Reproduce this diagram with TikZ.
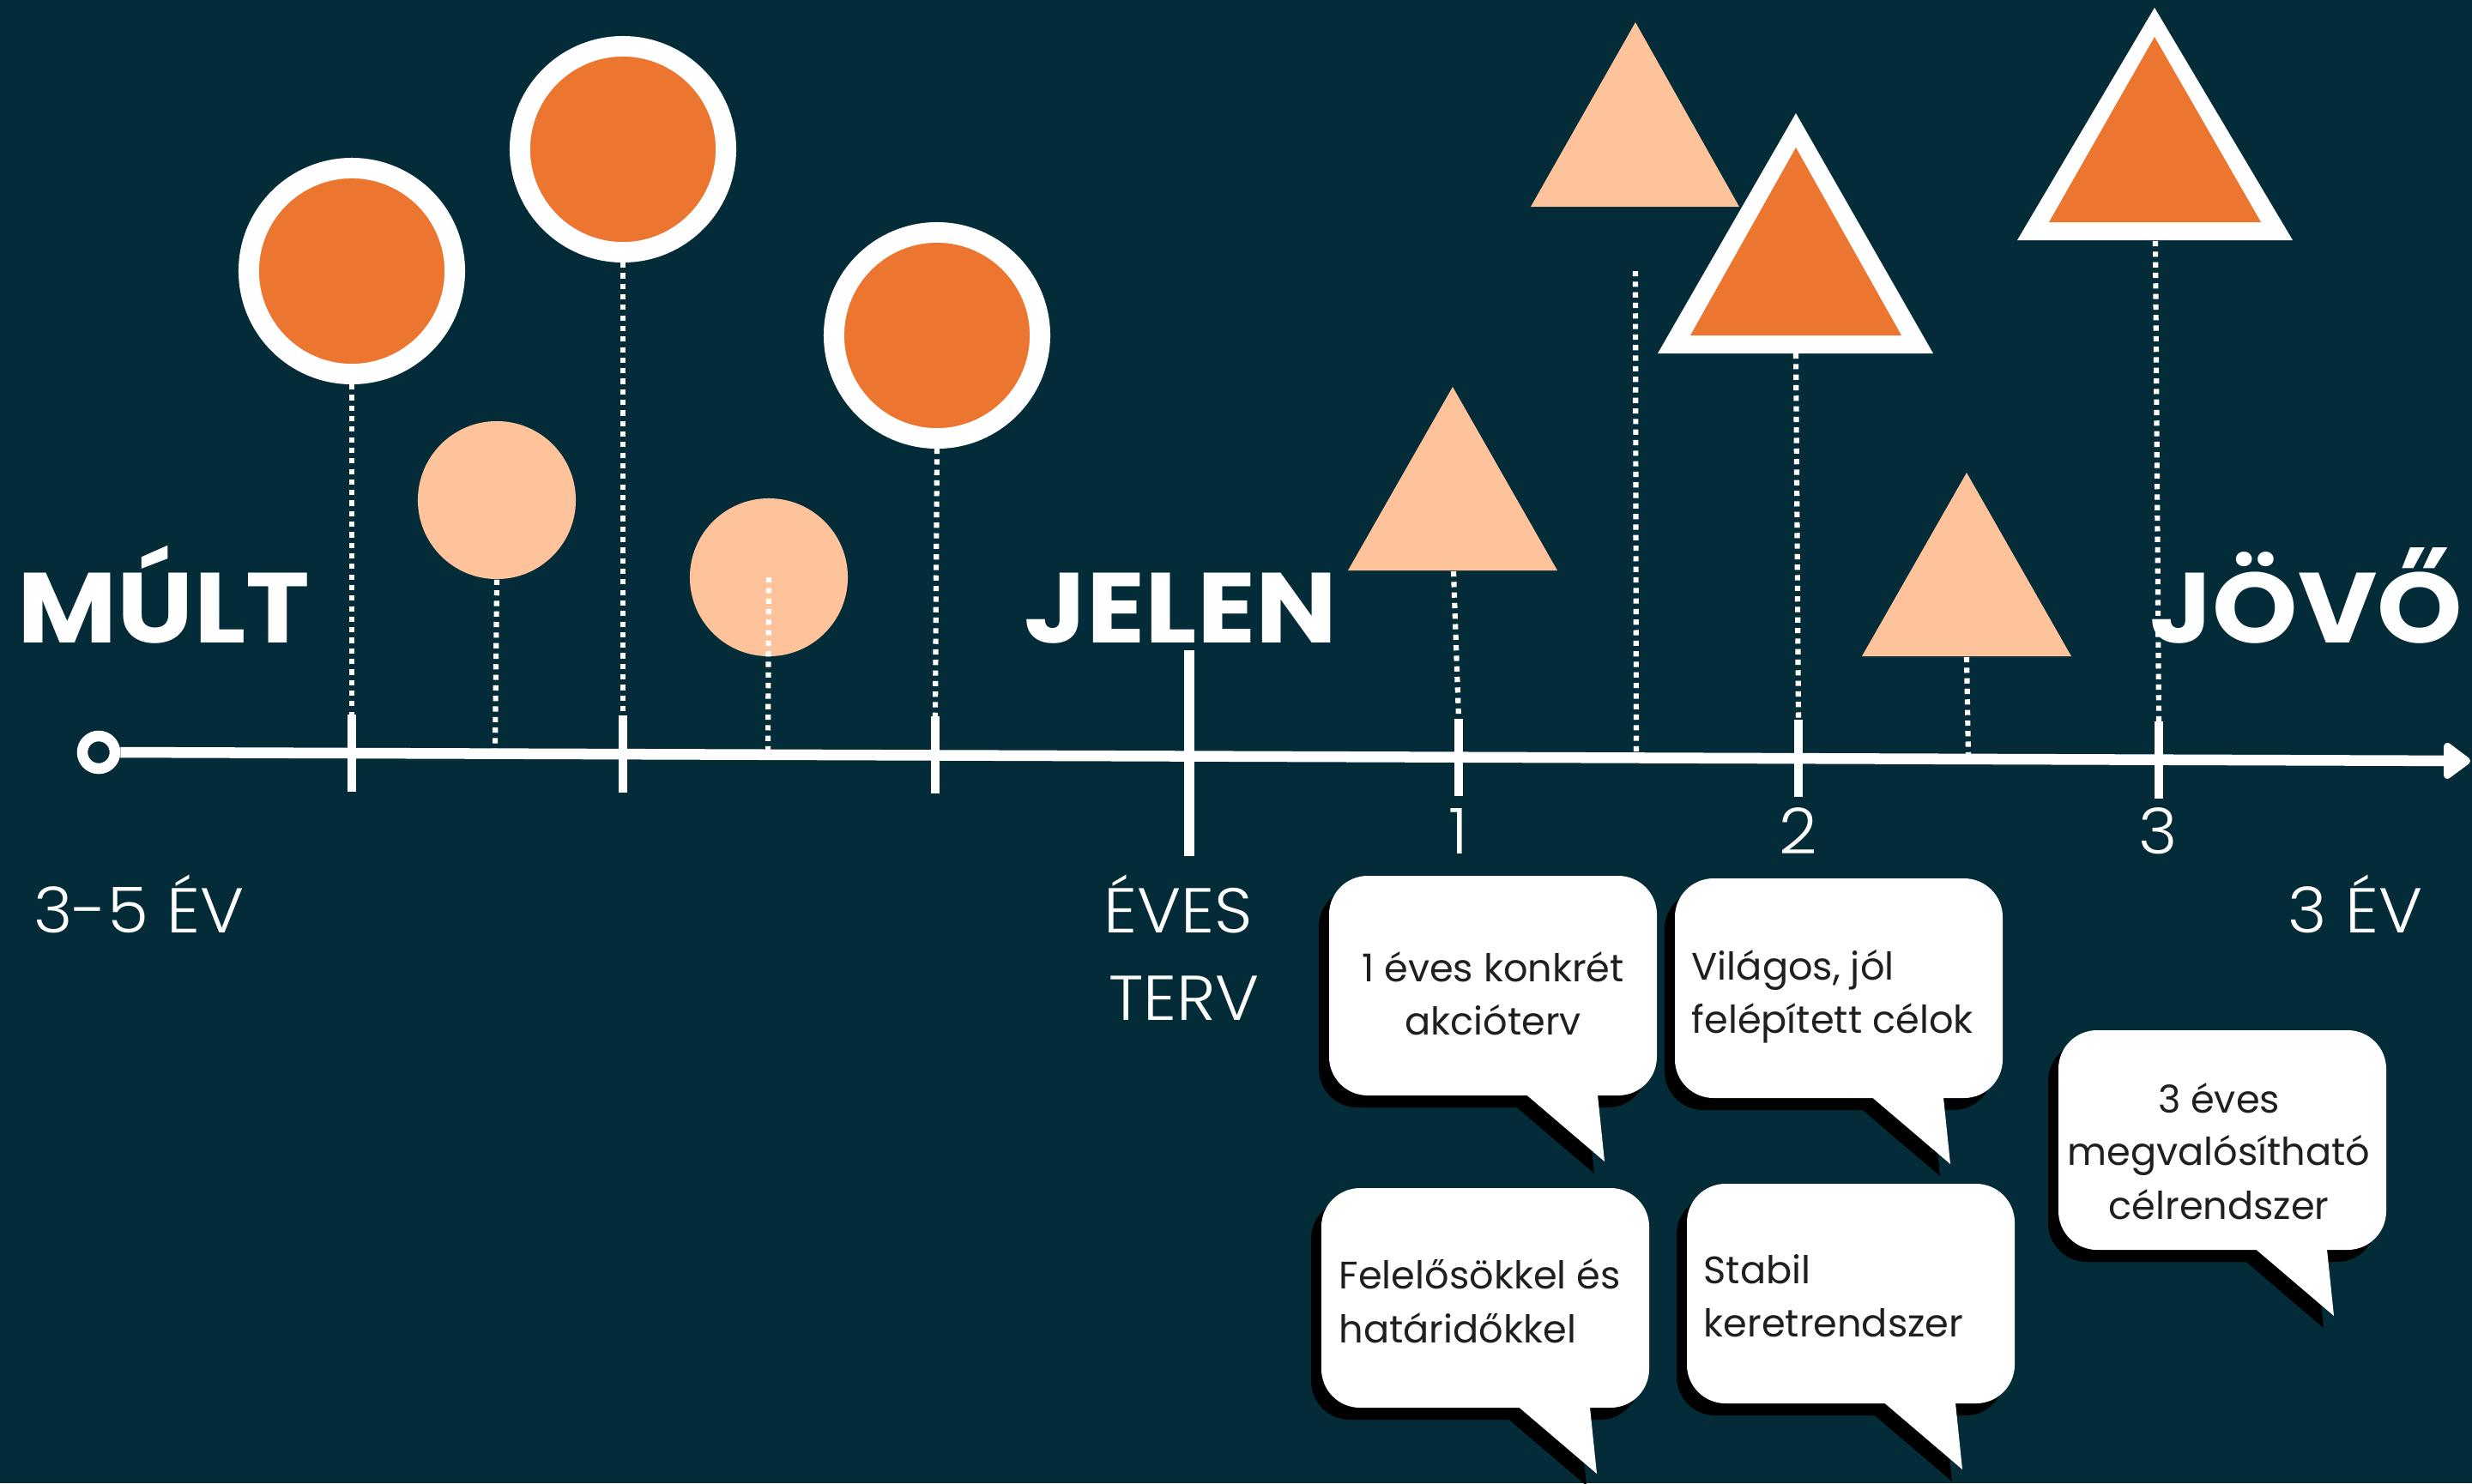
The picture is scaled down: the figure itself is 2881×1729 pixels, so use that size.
\documentclass[tikz,border=0pt]{standalone}
\usepackage{fontspec}
\setmainfont{Poppins}
\newfontfamily\headf{Poppins}[FakeStretch=1.09]
\IfFontExistsTF{Poppins Light}{\newfontfamily\lightf{Poppins Light}[FakeStretch=1.05]}{\newfontfamily\lightf{Poppins}[FakeStretch=1.05]}
\usetikzlibrary{arrows.meta}
\definecolor{bg}{RGB}{3,44,56}
\definecolor{orng}{RGB}{236,117,48}
\definecolor{peach}{RGB}{254,195,155}
\tikzset{bubble/.pic={
  \fill[black,rounded corners=0.45cm] (-12,14) rectangle (370,270);
  \fill[black] (207,260) -- (309,347) -- (300,260) -- cycle;
  \fill[white,rounded corners=0.45cm] (0,0) rectangle (382,256);
  \fill[white] (219,246) -- (321,333) -- (312,246) -- cycle;
}}
\begin{document}
\begin{tikzpicture}[x=0.01cm,y=-0.01cm,
  dots/.style={draw=white, line width=1.75pt, dash pattern=on 1.75pt off 1.75pt},
  tickmark/.style={draw=white, line width=3.1pt},
  bigdot/.style={circle, fill=orng, draw=white, line width=6.8pt, minimum size=2.4cm, inner sep=0pt},
  smalldot/.style={circle, fill=peach, minimum size=1.84cm, inner sep=0pt},
  biglabel/.style={text=white, font=\headf\fontsize{33}{33}\selectfont\bfseries, inner sep=0pt, anchor=base},
  smalllabel/.style={text=white, font=\lightf\fontsize{21}{21}\selectfont, inner sep=0pt, anchor=base},
  bubtext/.style={text=black!88, font=\fontsize{12.7}{12.7}\selectfont, inner sep=0pt},
]
\fill[bg] (0,0) rectangle (2881,1729);
\useasboundingbox (0,0) rectangle (2881,1729);

% ---- axis ----
\node[circle, draw=white, line width=3.56pt, minimum size=0.38cm, inner sep=0pt] (origin) at (115,877) {};
\coordinate (tip) at (2879,887);
\draw[white, line width=3.56pt, -{Triangle[length=0.34cm, width=0.48cm, round]}] (origin.east) -- (tip);

% tick coordinates (top / bottom)
\coordinate (k1a) at (410,833);  \coordinate (k1b) at (410,923);
\coordinate (k2a) at (726,834);  \coordinate (k2b) at (726,924);
\coordinate (k3a) at (1090,835); \coordinate (k3b) at (1090,925);
\coordinate (k4a) at (1386,758); \coordinate (k4b) at (1386,998);
\coordinate (k5a) at (1700,838); \coordinate (k5b) at (1700,928);
\coordinate (k6a) at (2096,839); \coordinate (k6b) at (2096,929);
\coordinate (k7a) at (2516,841); \coordinate (k7b) at (2516,931);
\foreach \k in {1,2,3,5,6,7} {\draw[tickmark] (k\k a) -- (k\k b);}
\draw[white, line width=3.4pt] (k4a) -- (k4b);

% axis foot points for the short dotted lines
\coordinate (f1) at (577,875);
\coordinate (f2) at (895,876);
\coordinate (f3) at (1907,880);
\coordinate (f4) at (2294,881);

% ---- circles ----
\node[bigdot] (c1) at (410,316) {};
\node[bigdot] (c2) at (726,174) {};
\node[bigdot] (c3) at (1092,391) {};
\node[smalldot] (p1) at (579,583) {};
\node[smalldot] (p2) at (896,673) {};

\draw[dots] (c1.south) -- (k1a);
\draw[dots] (c2.south) -- (k2a);
\draw[dots] (c3.south) -- (k3a);
\draw[dots] (p1.south) -- (f1);
\draw[dots] (p2.center) -- (f2);

% ---- triangles ----
\fill[peach] (1693,451) -- (1815,665) -- (1571,665) -- cycle;
\coordinate (tA) at (1694,666);
\fill[peach] (1906,26) -- (2027,241) -- (1784,241) -- cycle;
\coordinate (tB) at (1906,316);
\fill[white] (2093,132) -- (2253,412) -- (1932,412) -- cycle;
\fill[orng] (2093,172) -- (2216,391) -- (1970,391) -- cycle;
\coordinate (tC) at (2093,412);
\fill[peach] (2292,551) -- (2414,765) -- (2170,765) -- cycle;
\coordinate (tD) at (2292,766);
\fill[white] (2511,9) -- (2672,280) -- (2351,280) -- cycle;
\fill[orng] (2511,43) -- (2635,259) -- (2388,259) -- cycle;
\coordinate (tE) at (2512,281);

\draw[dots] (tA) -- (k5a);
\draw[dots] (tB) -- (f3);
\draw[dots] (tC) -- (k6a);
\draw[dots] (tD) -- (f4);
\draw[dots] (tE) -- (k7a);

% ---- labels ----
\node[biglabel] (mult) at (191,749) {MÚLT};
\node[biglabel] (jelen) at (1376,749) {JELEN};
\node[biglabel] (jovo) at (2688,749) {JÖVŐ};
\node[smalllabel] (past) at (162,1087) {3-5 ÉV};
\node[smalllabel] (eves) at (1373,1087) {ÉVES};
\node[smalllabel] (terv) at (1380,1189) {TERV};
\node[smalllabel] (n1) at (1700,995) {1};
\node[smalllabel] (n2) at (2096,995) {2};
\node[smalllabel] (n3) at (2515,995) {3};
\node[smalllabel] (fut) at (2745,1087) {3 ÉV};

% ---- speech bubbles ----
\pic (b1) at (1549,1021) {bubble};
\pic (b2) at (1952,1024) {bubble};
\pic (b3) at (1540,1385) {bubble};
\pic (b4) at (1966,1380) {bubble};
\pic (b5) at (2399,1201) {bubble};

\node[bubtext, anchor=base] (b1t1) at (1740,1144) {1 éves konkrét};
\node[bubtext, anchor=base] (b1t2) at (1740,1206) {akcióterv};
\node[bubtext, anchor=base west] (b2t1) at (1971,1142) {Világos, jól};
\node[bubtext, anchor=base west] (b2t2) at (1971,1204) {felépített célok};
\node[bubtext, anchor=base west] (b3t1) at (1560,1502) {Felelősökkel és};
\node[bubtext, anchor=base west] (b3t2) at (1560,1565) {határidőkkel};
\node[bubtext, anchor=base west] (b4t1) at (1985,1496) {Stabil};
\node[bubtext, anchor=base west] (b4t2) at (1985,1558) {keretrendszer};
\node[bubtext, anchor=base] (b5t1) at (2586,1297) {3 éves};
\node[bubtext, anchor=base] (b5t2) at (2586,1358) {megvalósítható};
\node[bubtext, anchor=base] (b5t3) at (2586,1421) {célrendszer};
\end{tikzpicture}
\end{document}
